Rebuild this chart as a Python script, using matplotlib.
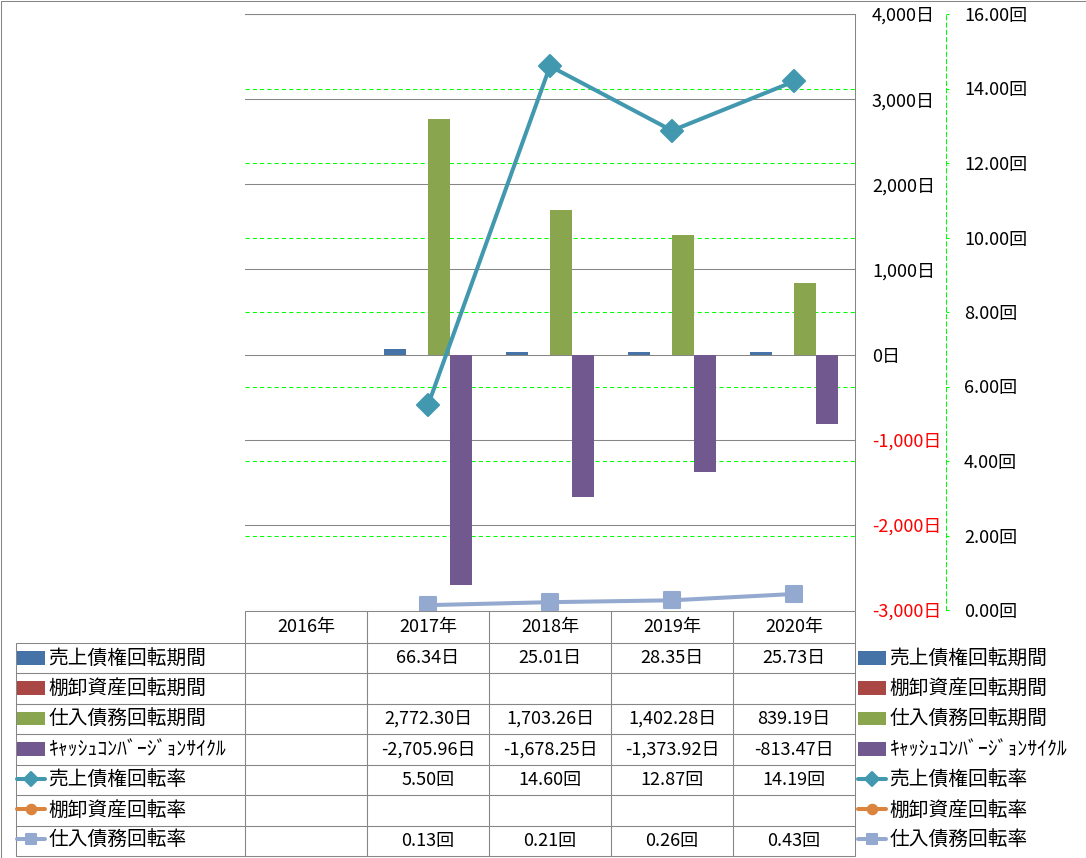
import numpy as np
import matplotlib
matplotlib.use("Agg")
import matplotlib.pyplot as plt
from matplotlib.table import Table
from matplotlib.patches import Rectangle
from matplotlib.markers import MarkerStyle

plt.rcParams['font.family'] = ['Noto Sans CJK JP', 'DejaVu Sans']

# data
years = ['2016年', '2017年', '2018年', '2019年', '2020年']
nan = np.nan
ar_days = [nan, 66.34, 25.01, 28.35, 25.73]
inv_days = [nan, nan, nan, nan, nan]
ap_days = [nan, 2772.30, 1703.26, 1402.28, 839.19]
ccc_days = [nan, -2705.96, -1678.25, -1373.92, -813.47]
ar_turn = [nan, 5.50, 14.60, 12.87, 14.19]
inv_turn = [nan, nan, nan, nan, nan]
ap_turn = [nan, 0.13, 0.21, 0.26, 0.43]

labels = ['売上債権回転期間', '棚卸資産回転期間', '仕入債務回転期間',
          'ｷｬｯｼｭｺﾝﾊﾞｰｼﾞｮﾝｻｲｸﾙ', '売上債権回転率', '棚卸資産回転率', '仕入債務回転率']
units = ['日', '日', '日', '日', '回', '回', '回']
day_ticks = np.arange(-3000, 4001, 1000)
rate_ticks = np.arange(0, 17, 2)

bar_colors = ['#4572A7', '#AA4643', '#89A54E', '#71588F']
line_colors = ['#4198AF', '#DB843D', '#93A9CF']
line_markers = ['D', 'o', 's']
line_ms = [11.5, 11, 11]
grey = '#868686'

W, H = 1086, 858
fig = plt.figure(figsize=(W / 100, H / 100), dpi=100)


def px(x0, y0, x1, y1):
    return [x0 / W, 1 - y1 / H, (x1 - x0) / W, (y1 - y0) / H]


ax = fig.add_axes(px(245, 14, 855, 610))
ax2 = ax.twinx()
ax.set_zorder(ax2.get_zorder() + 1)
ax.patch.set_visible(False)

x = np.arange(len(years))
width = 0.18
offsets = [-0.27, -0.09, 0.09, 0.27]
handles = []
for vals, off, c, lab in zip([ar_days, inv_days, ap_days, ccc_days], offsets, bar_colors, labels[:4]):
    handles.append(ax.bar(x + off, vals, width, color=c, label=lab, zorder=2))

# rate lines are drawn on the top axes but in the secondary scale
for vals, c, m, ms, lab in zip([ar_turn, inv_turn, ap_turn], line_colors, line_markers, line_ms, labels[4:]):
    ln, = ax.plot(x, vals, color=c, lw=2.9, marker=MarkerStyle(m, joinstyle='round'), ms=ms,
                  mec=c, mew=1.5, transform=ax2.transData, zorder=3, label=lab,
                  solid_capstyle='round')
    handles.append(ln)

ax.set_xlim(-0.5, 4.5)
ax.set_xticks([])
ax.set_ylim(-3000, 4000)
ax.yaxis.tick_right()
ax.set_yticks(day_ticks, [f'{v:,}日' for v in day_ticks])
ax.tick_params(axis='y', length=0, pad=12.2, labelsize=13)
for t, v in zip(ax.get_yticklabels(), day_ticks):
    if v < 0:
        t.set_color('red')
ax.grid(axis='y', color=grey, lw=0.75)
ax.set_axisbelow(True)
for s in ['left', 'bottom']:
    ax.spines[s].set_visible(False)
for s in ['top', 'right']:
    ax.spines[s].set_color(grey)
    ax.spines[s].set_linewidth(0.75)

ax2.set_ylim(0, 16)
ax2.set_yticks(rate_ticks, [f'{v:.2f}回' for v in rate_ticks])
ax2.tick_params(axis='y', color='#00FF00', length=2.2, width=0.75, pad=10.8, labelsize=13)
ax2.grid(axis='y', color='#00FF00', ls=(0, (4, 3)), lw=0.75)
for s in ['left', 'top', 'bottom']:
    ax2.spines[s].set_visible(False)
ax2.spines['right'].set_position(('outward', 91 * 0.72))
ax2.spines['right'].set_color('#00FF00')
ax2.spines['right'].set_linestyle((0, (4, 3)))
ax2.spines['right'].set_linewidth(0.75)

# data table under the plot
tax = fig.add_axes([0, 0, 1, 1])
tax.axis('off')
table = Table(tax, bbox=[16 / W, 1 - 856 / H, (855 - 16) / W, (856 - 611) / H])
series = [ar_days, inv_days, ap_days, ccc_days, ar_turn, inv_turn, ap_turn]
for j, yr in enumerate(years):
    table.add_cell(0, j + 1, 122, 32, text=yr, loc='center', facecolor='none', edgecolor=grey)
for i, (vals, u) in enumerate(zip(series, units)):
    table.add_cell(i + 1, 0, 229, 30.4, text='', facecolor='none', edgecolor=grey)
    for j, v in enumerate(vals):
        txt = '' if np.isnan(v) else f'{v:,.2f}{u}'
        table.add_cell(i + 1, j + 1, 122, 30.4, text=txt, loc='center', facecolor='none', edgecolor=grey)
table.auto_set_font_size(False)
table.set_fontsize(13)
for cell in table.get_celld().values():
    cell.set_linewidth(0.75)
tax.add_table(table)

leg_kw = dict(loc='center left', frameon=False, borderpad=0, borderaxespad=0,
              handlelength=1.4, handletextpad=0.2, labelspacing=0.465,
              fontsize=14.2, markerscale=0.62)
fig.legend(handles, labels, bbox_to_anchor=(17 / W, 1 - 750 / H), **leg_kw)
fig.legend(handles, labels, bbox_to_anchor=(858 / W, 1 - 750 / H), **leg_kw)

fig.add_artist(Rectangle((0.5 / W, 0.5 / H), 1 - 1 / W, 1 - 1 / H, transform=fig.transFigure,
                         fill=False, ec=grey, lw=0.75))

fig.savefig('out.png', dpi=100)
